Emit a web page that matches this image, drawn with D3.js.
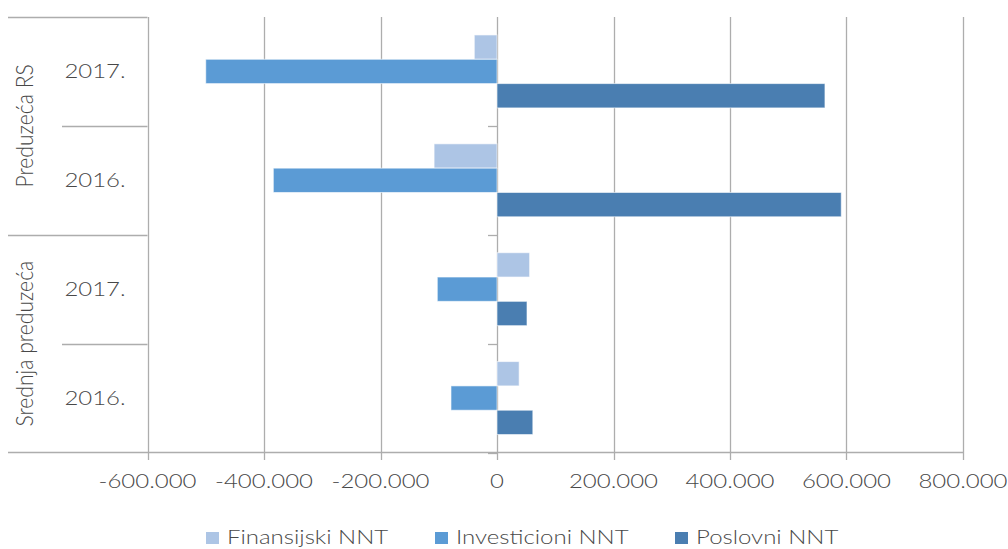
<!DOCTYPE html>
<html><head><meta charset="utf-8">
<script src="https://cdn.jsdelivr.net/npm/d3@7"></script>
<style>
body{margin:0;background:#fff;}
svg{display:block;font-family:Lato,"Open Sans",sans-serif;font-weight:300;}
</style></head>
<body><svg id="c" width="1008" height="549"></svg>
<script>
const groups = ["Preduzeća RS", "Srednja preduzeća"];
const years = ["2017.", "2016.", "2017.", "2016."];
const rowGroup = [0, 0, 1, 1];
const seriesNames = ["Finansijski NNT", "Investicioni NNT", "Poslovni NNT"];
const finansijski = [-39000, -108000, 56000, 38000];
const investicioni = [-500000, -384000, -102500, -79000];
const poslovni = [563000, 591000, 51500, 61500];
const xTicks = [-600000, -400000, -200000, 0, 200000, 400000, 600000, 800000];
const colors = ["#ADC5E5", "#5B9BD5", "#4A7EB1"];

const seriesValues = [finansijski, investicioni, poslovni];
const rows = years.map((yr, i) => ({i, year: yr, group: groups[rowGroup[i]], vals: seriesValues.map(s => s[i])}));

const svg = d3.select("#c");
const pTop = 17, pBottom = 452.5, pLeft = 147.5, pRight = 963;
const x = d3.scaleLinear().domain([-600000, 800000]).range([pLeft, pRight]);
const y = d3.scaleBand().domain(d3.range(rows.length)).range([pTop, pBottom]).paddingInner(0).paddingOuter(0);
const bw = y.bandwidth();
const sub = d3.scaleBand().domain(d3.range(seriesNames.length)).range([bw*0.165, bw*0.835]);
const loc = d3.formatLocale({decimal: ",", thousands: ".", grouping: [3], currency: ["", ""], minus: "-"});
const fmt = loc.format(",.0f");
const grid = "#ADADAD", txt = "#484848";
const SX = 1.2; // horizontal stretch of the original rendering

// gridlines
svg.append("g").selectAll("line").data(xTicks).join("line")
  .attr("x1", d => Math.round(x(d)) + 0.5).attr("x2", d => Math.round(x(d)) + 0.5)
  .attr("y1", pTop).attr("y2", 460)
  .attr("stroke", grid).attr("stroke-width", 1.3);

// horizontal axis line (extends under category labels)
svg.append("line").attr("x1", 8).attr("x2", pRight).attr("y1", pBottom).attr("y2", pBottom)
  .attr("stroke", grid).attr("stroke-width", 1.3);

// category label separators
const sepData = [
  {yy: pTop, x1: 8}, {yy: y(1), x1: 62}, {yy: y(2), x1: 8}, {yy: y(3), x1: 62}
];
svg.append("g").selectAll("line").data(sepData).join("line")
  .attr("x1", d => d.x1).attr("x2", pLeft).attr("y1", d => Math.round(d.yy) + 0.5).attr("y2", d => Math.round(d.yy) + 0.5)
  .attr("stroke", grid).attr("stroke-width", 1.3);

// small ticks on zero axis
svg.append("g").selectAll("line").data([y(1), y(2), y(3), pBottom]).join("line")
  .attr("x1", x(0) - 9).attr("x2", x(0)).attr("y1", d => Math.round(d) + 0.5).attr("y2", d => Math.round(d) + 0.5)
  .attr("stroke", grid).attr("stroke-width", 1.3);

// bars
const rg = svg.append("g").selectAll("g").data(rows).join("g")
  .attr("transform", d => `translate(0,${y(d.i)})`);
rg.selectAll("rect").data(d => d.vals.map((v, k) => ({v, k}))).join("rect")
  .attr("x", d => x(Math.min(0, d.v)))
  .attr("width", d => Math.abs(x(d.v) - x(0)))
  .attr("y", d => sub(d.k))
  .attr("height", sub.bandwidth())
  .attr("fill", d => colors[d.k])
  .attr("stroke", "#ffffff").attr("stroke-opacity", 0.6).attr("stroke-width", 1);

// tick labels
svg.append("g").selectAll("text").data(xTicks).join("text")
  .attr("transform", d => `translate(${x(d)},488) scale(${SX},1)`)
  .attr("text-anchor", "middle").attr("font-size", 20).attr("fill", txt)
  .text(d => fmt(d));

// year labels
svg.append("g").selectAll("text").data(rows).join("text")
  .attr("transform", d => `translate(95,${y(d.i) + bw/2 + 6.6}) scale(${SX},1)`)
  .attr("text-anchor", "middle").attr("font-size", 20).attr("fill", txt)
  .text(d => d.year);

// group labels
svg.append("g").selectAll("text").data(groups).join("text")
  .attr("transform", (g, gi) => `translate(33,${(y(gi*2) + y(gi*2+1) + bw)/2}) rotate(-90) scale(1.03,1.12)`)
  .attr("text-anchor", "middle").attr("font-size", 20.5).attr("fill", txt)
  .text(d => d);

// legend
const legX = [206, 435, 675];
const lg = svg.append("g").selectAll("g").data(seriesNames).join("g")
  .attr("transform", (d, i) => `translate(${legX[i]},0)`);
lg.append("rect").attr("x", 0).attr("y", 532).attr("width", 13).attr("height", 12)
  .attr("fill", (d, i) => colors[i]);
lg.append("text").attr("transform", `translate(21,544) scale(${SX},1)`)
  .attr("font-size", 20).attr("fill", txt).text(d => d);
</script></body></html>
